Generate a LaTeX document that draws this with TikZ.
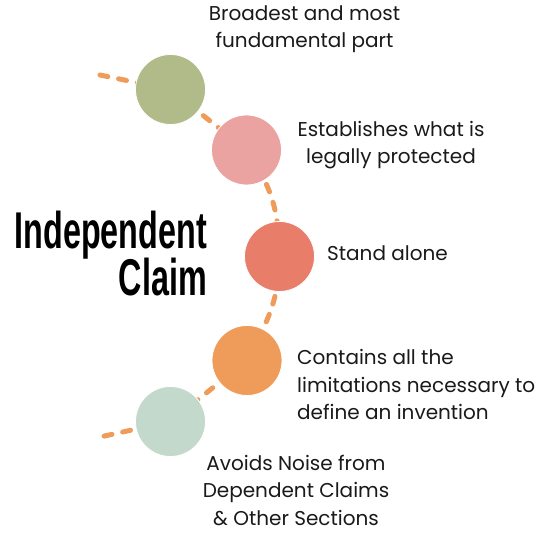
\documentclass[tikz,border=0pt]{standalone}
\usepackage{fontspec}
\setmainfont{Poppins}
\newfontfamily\titlefont{Liberation Sans}
\usetikzlibrary{backgrounds}
\definecolor{cgreen}{HTML}{B1BA89}
\definecolor{cpink}{HTML}{EAA3A1}
\definecolor{cred}{HTML}{E87D6A}
\definecolor{corange}{HTML}{EF9C5B}
\definecolor{cmint}{HTML}{C2D9CC}
\definecolor{ctext}{HTML}{1A1A1A}
\tikzset{
  dot/.style={circle, minimum size=70pt, inner sep=0pt, draw=white, line width=0.8pt},
  lbl/.style={inner sep=0pt, text=ctext, font=\fontsize{20}{24}\selectfont},
  ttl/.style={inner sep=0pt, anchor=base east, text=black, font=\titlefont\bfseries\fontsize{51.7}{60}\selectfont},
  chain/.style={draw=corange, line width=5pt, line cap=round, line join=round, dash pattern=on 8pt off 11pt}
}
\begin{document}
\begin{tikzpicture}[x=1pt,y=1pt]
\useasboundingbox (0,0) rectangle (539,534);
% circles
\node[dot, fill=cgreen]  (c1) at (170.5,444.5) {};
\node[dot, fill=cpink]   (c2) at (246.5,384) {};
\node[dot, fill=cred]    (c3) at (279.5,277.5) {};
\node[dot, fill=corange] (c4) at (247,173.5) {};
\node[dot, fill=cmint]   (c5) at (170.5,112.5) {};
\coordinate (L1) at (100,459);
\coordinate (L2) at (100,97);
\begin{scope}[on background layer]
\fill[white] (0,0) rectangle (539,534);
\draw[chain] (L1) -- (c1.center) -- (c2.center) to[out=-55,in=90] (c3.center)
  to[out=-90,in=62] (c4.center) -- (c5.center) -- (L2);
\end{scope}
% title
\node[ttl] (t1) at (207,285) {\scalebox{0.625}[1]{Independent}};
\node[ttl] (t2) at (207,238) {\scalebox{0.625}[1]{Claim}};
% labels
\node[lbl, anchor=base] (a1) at (304.5,513) {Broadest and most};
\node[lbl, anchor=base] (a2) at (304.5,486) {fundamental part};
\node[lbl, anchor=base] (b1) at (391,397) {Establishes what is};
\node[lbl, anchor=base] (b2) at (391,370) {legally protected};
\node[lbl, anchor=base west] (s1) at (327,273) {Stand alone};
\node[lbl, anchor=base west] (d1) at (297,169) {Contains all the};
\node[lbl, anchor=base west] (d2) at (297,141.5) {limitations necessary to};
\node[lbl, anchor=base west] (d3) at (297,114) {define an invention};
\node[lbl, anchor=base] (e1) at (296,63) {Avoids Noise from};
\node[lbl, anchor=base] (e2) at (296,36) {Dependent Claims};
\node[lbl, anchor=base] (e3) at (296,8) {\& Other Sections};
\end{tikzpicture}
\end{document}
